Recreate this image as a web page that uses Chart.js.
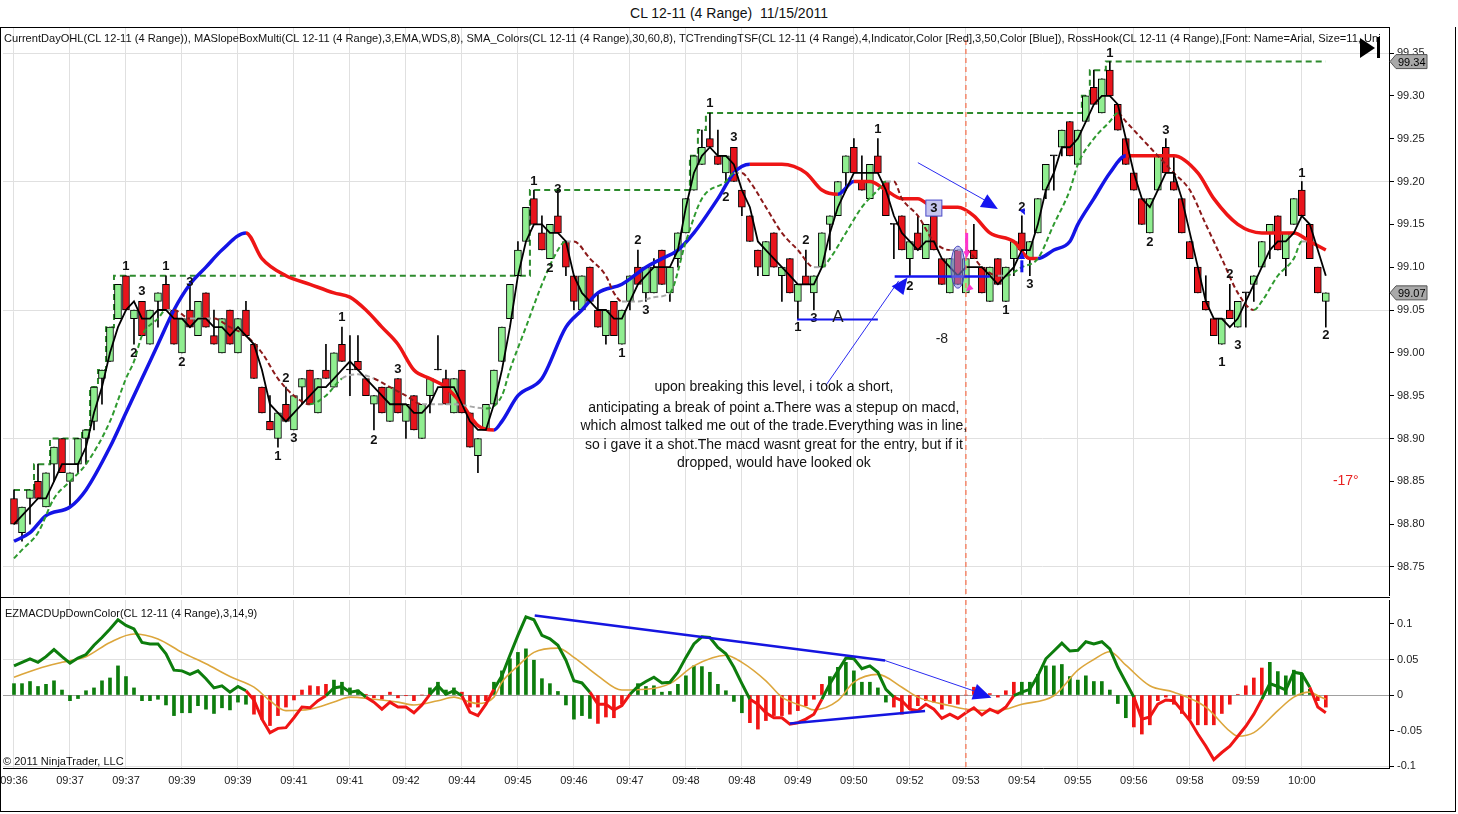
<!DOCTYPE html>
<html>
<head>
<meta charset="utf-8">
<script src="https://cdn.jsdelivr.net/npm/chart.js@4.4.0/dist/chart.umd.min.js"></script>
<style>
  body { margin: 0; background: #fff; width: 1458px; height: 814px; overflow: hidden; position: relative;
         font-family: Arial, "Liberation Sans", sans-serif; }
  canvas { position: absolute; left: 0; }
  #title { position: absolute; top: 5px; left: 0; width: 1458px; text-align: center; font-size: 14px; color: #111; }
  #ind { position: absolute; top: 32px; left: 4px; width: 1376px; overflow: hidden; white-space: nowrap; font-size: 11.1px; color: #111; }
  .ln { position: absolute; background: #000; }
</style>
</head>
<body>
<div id="title">CL 12-11 (4 Range)&nbsp; 11/15/2011</div>
<canvas id="price" width="1458" height="597" style="top:0"></canvas>
<canvas id="macd" width="1458" height="217" style="top:597px"></canvas>
<div id="ind">CurrentDayOHL(CL 12-11 (4 Range)), MASlopeBoxMulti(CL 12-11 (4 Range),3,EMA,WDS,8), SMA_Colors(CL 12-11 (4 Range),30,60,8), TCTrendingTSF(CL 12-11 (4 Range),4,Indicator,Color [Red],3,50,Color [Blue]), RossHook(CL 12-11 (4 Range),[Font: Name=Arial, Size=11, Unit=Point, Style=Bold],Color [Black])</div>
<div style="position:absolute;left:1360px;top:38px;width:0;height:0;border-top:10px solid transparent;border-bottom:10px solid transparent;border-left:15px solid #000"></div>
<div style="position:absolute;left:1377px;top:37px;width:3px;height:21px;background:#000"></div>
<div class="ln" style="left:0;top:27px;width:1390px;height:1px"></div>
<div class="ln" style="left:0;top:27px;width:1px;height:785px"></div>
<div class="ln" style="left:1455px;top:27px;width:1px;height:785px"></div>
<div class="ln" style="left:0;top:811px;width:1456px;height:1px"></div>
<div class="ln" style="left:0;top:597px;width:1390px;height:1px"></div>
<script>
// ---- data (4-tick range bars, CL 12-11) ----
const timeLabels = ['09:36','09:37','09:37','09:39','09:39','09:41','09:41','09:42','09:44','09:45','09:46','09:47',
  '09:48','09:48','09:49','09:50','09:52','09:53','09:54','09:55','09:56','09:58','09:59','10:00'];

const open = [98.83,98.79,98.83,98.85,98.82,98.87,98.90,98.85,98.87,98.90,
  98.92,98.97,98.99,99.04,99.09,99.04,99.06,99.01,99.06,99.08,
  99.05,99.00,99.05,99.02,99.07,99.02,99.00,99.05,99.00,99.05,
  99.01,98.96,98.92,98.90,98.94,98.91,98.96,98.98,98.93,98.98,
  98.96,99.01,98.98,98.99,98.97,98.94,98.96,98.92,98.97,98.92,
  98.95,98.90,98.95,98.98,98.97,98.93,98.98,98.93,98.88,98.91,
  98.94,98.99,99.04,99.09,99.13,99.18,99.14,99.11,99.16,99.13,
  99.09,99.05,99.10,99.05,99.02,99.06,99.01,99.06,99.10,99.07,
  99.07,99.12,99.07,99.11,99.14,99.19,99.22,99.25,99.23,99.21,
  99.24,99.19,99.16,99.12,99.09,99.14,99.09,99.11,99.06,99.09,
  99.07,99.10,99.15,99.16,99.21,99.24,99.20,99.18,99.23,99.20,
  99.15,99.16,99.11,99.14,99.11,99.16,99.11,99.07,99.12,99.07,
  99.12,99.10,99.06,99.11,99.06,99.11,99.14,99.11,99.14,99.19,
  99.23,99.24,99.27,99.22,99.27,99.31,99.28,99.33,99.29,99.25,
  99.21,99.18,99.14,99.19,99.24,99.20,99.18,99.13,99.10,99.06,
  99.04,99.01,99.05,99.03,99.07,99.08,99.10,99.14,99.16,99.11,
  99.15,99.19,99.15,99.10,99.06];
const high = [98.84,98.82,98.84,98.87,98.86,98.89,98.90,98.86,98.90,98.91,
  98.96,98.98,99.03,99.08,99.09,99.05,99.06,99.05,99.07,99.09,
  99.05,99.04,99.08,99.06,99.07,99.05,99.04,99.05,99.04,99.06,
  99.01,98.96,98.95,98.93,98.96,98.95,98.97,98.98,98.97,99.01,
  99.00,99.03,99.02,99.02,98.97,98.95,98.96,98.96,98.97,98.94,
  98.95,98.94,98.97,99.02,98.98,98.97,98.98,98.93,98.90,98.94,
  98.98,99.03,99.08,99.13,99.17,99.19,99.16,99.15,99.19,99.13,
  99.09,99.09,99.10,99.07,99.05,99.06,99.05,99.09,99.12,99.10,
  99.11,99.12,99.10,99.14,99.18,99.23,99.26,99.28,99.26,99.23,
  99.24,99.19,99.16,99.12,99.13,99.14,99.10,99.11,99.08,99.12,
  99.09,99.14,99.16,99.20,99.23,99.25,99.23,99.22,99.25,99.20,
  99.15,99.16,99.13,99.16,99.15,99.16,99.11,99.11,99.12,99.11,
  99.15,99.10,99.10,99.11,99.10,99.13,99.16,99.13,99.18,99.22,
  99.23,99.26,99.27,99.26,99.30,99.33,99.32,99.34,99.29,99.25,
  99.21,99.18,99.18,99.23,99.25,99.23,99.18,99.13,99.10,99.09,
  99.04,99.04,99.08,99.06,99.07,99.09,99.13,99.15,99.16,99.14,
  99.18,99.20,99.15,99.10,99.07];
const low = [98.80,98.78,98.80,98.83,98.82,98.85,98.86,98.82,98.86,98.87,
  98.91,98.94,98.99,99.04,99.05,99.01,99.02,99.01,99.03,99.05,
  99.01,99.00,99.03,99.02,99.03,99.01,99.00,99.01,99.00,99.02,
  98.97,98.93,98.91,98.89,98.92,98.91,98.94,98.94,98.93,98.97,
  98.96,98.99,98.95,98.98,98.95,98.91,98.93,98.92,98.93,98.90,
  98.91,98.90,98.93,98.98,98.94,98.93,98.93,98.89,98.86,98.91,
  98.94,98.99,99.04,99.09,99.13,99.15,99.12,99.11,99.14,99.09,
  99.05,99.05,99.06,99.03,99.01,99.02,99.01,99.05,99.08,99.06,
  99.07,99.08,99.06,99.10,99.14,99.19,99.22,99.24,99.22,99.20,
  99.20,99.16,99.13,99.09,99.09,99.10,99.06,99.07,99.04,99.08,
  99.05,99.10,99.12,99.16,99.19,99.21,99.19,99.18,99.21,99.16,
  99.11,99.12,99.09,99.12,99.11,99.12,99.08,99.07,99.08,99.07,
  99.11,99.07,99.06,99.08,99.06,99.09,99.12,99.09,99.14,99.18,
  99.19,99.23,99.23,99.22,99.27,99.29,99.28,99.30,99.26,99.22,
  99.19,99.15,99.14,99.19,99.21,99.19,99.14,99.11,99.07,99.05,
  99.02,99.01,99.04,99.03,99.03,99.06,99.10,99.11,99.12,99.09,
  99.15,99.16,99.11,99.07,99.03];
const close = [98.80,98.82,98.84,98.83,98.86,98.89,98.86,98.86,98.90,98.91,
  98.96,98.98,99.03,99.08,99.05,99.05,99.02,99.05,99.07,99.05,
  99.01,99.04,99.03,99.06,99.03,99.01,99.04,99.01,99.04,99.02,
  98.97,98.93,98.91,98.93,98.92,98.95,98.97,98.94,98.97,98.97,
  99.00,98.99,98.98,98.98,98.95,98.95,98.93,98.96,98.93,98.94,
  98.91,98.94,98.97,98.98,98.94,98.97,98.93,98.89,98.90,98.94,
  98.98,99.03,99.08,99.12,99.17,99.15,99.12,99.15,99.14,99.10,
  99.06,99.09,99.06,99.03,99.05,99.02,99.05,99.09,99.08,99.10,
  99.10,99.08,99.10,99.14,99.18,99.23,99.24,99.24,99.22,99.23,
  99.20,99.17,99.13,99.10,99.13,99.10,99.10,99.07,99.08,99.08,
  99.09,99.14,99.16,99.20,99.23,99.21,99.19,99.22,99.21,99.16,
  99.15,99.12,99.13,99.12,99.15,99.12,99.08,99.11,99.08,99.11,
  99.11,99.07,99.10,99.08,99.10,99.13,99.12,99.13,99.18,99.22,
  99.23,99.26,99.23,99.26,99.30,99.29,99.32,99.30,99.26,99.22,
  99.19,99.15,99.18,99.23,99.21,99.19,99.14,99.11,99.07,99.05,
  99.02,99.04,99.04,99.06,99.07,99.09,99.13,99.15,99.12,99.14,
  99.18,99.16,99.11,99.07,99.07];

// fast EMA (black)
const fastEma = [98.80,98.81,98.82,98.83,98.83,98.85,98.87,98.87,98.87,98.89,
  98.93,98.96,99.00,99.03,99.05,99.06,99.04,99.04,99.05,99.05,
  99.04,99.04,99.03,99.04,99.04,99.03,99.03,99.02,99.03,99.02,
  99.01,98.98,98.94,98.93,98.92,98.93,98.94,98.95,98.96,98.96,
  98.97,98.98,98.99,98.98,98.97,98.96,98.95,98.94,98.94,98.94,
  98.93,98.93,98.94,98.96,98.96,98.96,98.94,98.92,98.91,98.91,
  98.94,98.98,99.03,99.09,99.13,99.15,99.15,99.14,99.14,99.13,
  99.09,99.07,99.06,99.05,99.05,99.04,99.04,99.06,99.08,99.09,
  99.10,99.10,99.10,99.12,99.17,99.21,99.23,99.24,99.23,99.23,
  99.22,99.19,99.17,99.13,99.12,99.11,99.10,99.09,99.08,99.08,
  99.08,99.10,99.14,99.17,99.19,99.21,99.21,99.21,99.21,99.19,
  99.16,99.14,99.13,99.12,99.13,99.13,99.11,99.10,99.09,99.10,
  99.10,99.10,99.09,99.08,99.09,99.10,99.12,99.12,99.15,99.19,
  99.21,99.24,99.24,99.25,99.27,99.29,99.30,99.30,99.29,99.25,
  99.21,99.18,99.17,99.19,99.21,99.21,99.18,99.14,99.10,99.06,
  99.04,99.04,99.03,99.04,99.06,99.08,99.10,99.12,99.13,99.13,
  99.14,99.16,99.15,99.12,99.09];

// mid MA (dashed green / dark red / gray), [bar, price]
const midMaPts = [[0,98.76],[1,98.77],[3,98.79],[5,98.83],[7,98.85],[9,98.87],[12,98.92],[14,98.97],[15,98.99],
  [16,99.02],[18,99.04],[19,99.05],[20,99.05],[22,99.04],[25,99.04],[27,99.03],[29,99.02],[31,99.00],[33,98.97],
  [35,98.95],[37,98.94],[39,98.95],[41,98.97],[43,98.975],[45,98.97],[47,98.96],[49,98.95],[51,98.94],[55,98.94],
  [59,98.935],[61,98.95],[62,98.98],[64,99.03],[66,99.08],[68,99.12],[69,99.13],[70,99.13],[72,99.11],[74,99.09],
  [75,99.07],[76,99.06],[78,99.06],[80,99.065],[82,99.07],[84,99.13],[86,99.18],[89,99.20],[90,99.21],[91,99.21],
  [92,99.20],[94,99.17],[96,99.14],[98,99.12],[100,99.10],[101,99.10],[102,99.11],[104,99.14],[106,99.17],
  [108,99.19],[109,99.20],[110,99.20],[111,99.18],[113,99.16],[115,99.13],[117,99.12],[119,99.12],[121,99.10],
  [123,99.09],[124,99.09],[126,99.10],[128,99.11],[130,99.15],[132,99.19],[133,99.22],[135,99.25],[137,99.27],
  [138,99.28],[139,99.27],[141,99.25],[143,99.23],[145,99.21],[147,99.19],[149,99.15],[151,99.11],[153,99.07],
  [155,99.05],[156,99.06],[158,99.09],[160,99.11],[161,99.13],[162,99.13]];

// slow MA (thick red / blue), [bar, price]
const slowMaPts = [[0,98.78],[2,98.79],[4,98.81],[7,98.82],[9,98.84],[12,98.89],[14,98.93],[16,98.97],[18,99.01],
  [20,99.05],[22,99.08],[24,99.10],[26,99.12],[29,99.14],[31,99.11],[34,99.09],[37,99.08],[40,99.07],[42,99.065],
  [44,99.05],[46,99.03],[48,99.01],[50,98.98],[52,98.97],[54,98.96],[56,98.94],[58,98.915],[60,98.91],[61,98.92],
  [63,98.95],[66,98.97],[69,99.03],[71,99.05],[73,99.07],[76,99.08],[79,99.10],[81,99.11],[83,99.12],[85,99.14],
  [88,99.18],[90,99.21],[92,99.22],[94,99.22],[96,99.22],[99,99.21],[101,99.19],[103,99.185],[105,99.20],
  [107,99.20],[109,99.19],[111,99.18],[113,99.18],[115,99.17],[118,99.17],[120,99.16],[122,99.14],[125,99.13],
  [127,99.11],[128,99.11],[130,99.12],[132,99.13],[133,99.15],[135,99.18],[137,99.21],[139,99.23],[142,99.23],
  [144,99.23],[145,99.23],[148,99.21],[150,99.18],[153,99.15],[156,99.14],[158,99.14],[160,99.14],[162,99.13],
  [164,99.12]];

// current-day high (dashed step line), [first bar, price]
const dayHighSteps = [[0,98.84],[3,98.87],[5,98.90],[9,98.91],[10,98.96],[11,98.98],[12,99.03],[13,99.09],
  [65,99.19],[85,99.23],[86,99.26],[87,99.28],[134,99.30],[135,99.33],[137,99.34]];

// RossHook swing labels, [bar, price, text]
const hookLabels = [[14,99.101,'1'],[16,99.072,'3'],[15,98.999,'2'],[19,99.101,'1'],[22,99.082,'3'],[21,98.989,'2'],
  [34,98.97,'2'],[33,98.879,'1'],[35,98.90,'3'],[41,99.041,'1'],[48,98.981,'3'],[45,98.898,'2'],
  [65,99.20,'1'],[68,99.191,'3'],[67,99.099,'2'],[78,99.131,'2'],[79,99.05,'3'],[76,98.999,'1'],
  [87,99.291,'1'],[90,99.252,'3'],[89,99.181,'2'],[99,99.131,'2'],[98,99.03,'1'],[100,99.04,'3'],
  [108,99.261,'1'],[112,99.078,'2'],[124,99.05,'1'],[126,99.17,'2'],[127,99.08,'3'],
  [137,99.35,'1'],[144,99.26,'3'],[142,99.129,'2'],[152,99.091,'2'],[153,99.009,'3'],[151,98.989,'1'],
  [161,99.21,'1'],[164,99.02,'2']];

// MACD panel
const macdLine = [0.041,0.046,0.051,0.046,0.054,0.064,0.054,0.045,0.052,0.057,
  0.070,0.081,0.093,0.106,0.098,0.093,0.074,0.072,0.072,0.058,
  0.035,0.034,0.029,0.034,0.023,0.010,0.013,0.004,0.012,0.006,
  -0.007,-0.034,-0.053,-0.047,-0.046,-0.032,-0.017,-0.018,-0.008,-0.001,
  0.010,0.012,0.004,0.006,-0.003,-0.010,-0.020,-0.010,-0.017,-0.017,
  -0.025,-0.014,0.001,0.013,0.001,0.006,-0.001,-0.024,-0.029,-0.013,
  0.008,0.027,0.056,0.084,0.110,0.106,0.084,0.079,0.070,0.049,
  0.020,0.017,0.004,-0.013,-0.013,-0.021,-0.015,0.001,0.012,0.019,
  0.025,0.017,0.018,0.032,0.053,0.072,0.082,0.081,0.067,0.058,
  0.039,0.016,-0.006,-0.013,-0.025,-0.032,-0.032,-0.041,-0.039,-0.034,
  -0.027,-0.006,0.016,0.034,0.052,0.051,0.037,0.041,0.032,0.008,
  -0.003,-0.008,-0.020,-0.022,-0.013,-0.020,-0.033,-0.027,-0.033,-0.025,
  -0.018,-0.028,-0.020,-0.025,-0.017,-0.001,0.004,0.008,0.027,0.051,
  0.062,0.073,0.062,0.063,0.075,0.072,0.075,0.065,0.039,0.018,
  -0.003,-0.034,-0.031,-0.013,-0.007,-0.008,-0.022,-0.036,-0.055,-0.072,
  -0.091,-0.081,-0.072,-0.058,-0.044,-0.027,-0.006,0.016,0.012,0.007,
  0.032,0.030,0.011,-0.017,-0.025];
const macdHist = [0.016,0.016,0.019,0.012,0.015,0.020,0.007,-0.008,-0.005,0.006,
  0.010,0.020,0.024,0.041,0.026,0.010,-0.008,-0.008,-0.006,-0.014,
  -0.029,-0.025,-0.025,-0.015,-0.020,-0.026,-0.018,-0.021,-0.010,-0.013,
  -0.027,-0.034,-0.043,-0.029,-0.017,-0.007,0.007,0.013,0.012,0.015,
  0.021,0.018,0.010,0.007,0.001,-0.004,-0.006,0.004,-0.004,-0.001,
  -0.008,0.000,0.010,0.018,0.007,0.010,0.004,-0.017,-0.017,-0.008,
  0.018,0.034,0.051,0.060,0.065,0.049,0.023,0.016,0.005,-0.014,
  -0.034,-0.029,-0.033,-0.040,-0.031,-0.032,-0.013,0.000,0.016,0.012,
  0.013,0.004,0.005,0.015,0.027,0.041,0.040,0.032,0.015,0.006,
  -0.009,-0.025,-0.039,-0.048,-0.036,-0.029,-0.029,-0.027,-0.022,-0.015,
  -0.006,0.015,0.026,0.039,0.046,0.034,0.018,0.018,0.010,-0.010,
  -0.017,-0.027,-0.020,-0.015,-0.008,-0.010,-0.020,-0.012,-0.013,0.000,
  0.011,0.001,0.002,-0.003,0.006,0.018,0.018,0.018,0.029,0.041,
  0.041,0.043,0.026,0.021,0.027,0.019,0.019,0.007,-0.012,-0.032,
  -0.045,-0.055,-0.042,-0.008,-0.003,-0.013,-0.026,-0.034,-0.042,-0.042,
  -0.042,-0.026,-0.013,0.001,0.013,0.024,0.038,0.046,0.033,0.027,
  0.035,0.030,0.008,-0.008,-0.017];
// signal line, [bar, value]
const signalPts = [[0,0.025],[3,0.037],[6,0.046],[9,0.054],[12,0.074],[15,0.086],[18,0.079],[21,0.060],[24,0.044],
  [27,0.026],[30,0.011],[32,-0.008],[34,-0.022],[37,-0.020],[40,-0.010],[42,-0.003],[45,-0.006],[48,-0.010],
  [50,-0.014],[53,-0.008],[55,-0.003],[57,-0.010],[58,-0.012],[60,-0.003],[61,0.018],[63,0.041],[65,0.060],
  [68,0.066],[70,0.053],[73,0.027],[76,0.007],[79,0.008],[82,0.016],[85,0.041],[89,0.056],[91,0.046],[94,0.020],
  [96,-0.003],[99,-0.017],[100,-0.021],[103,-0.008],[105,0.018],[108,0.029],[111,0.011],[113,-0.003],[117,-0.015],
  [119,-0.020],[123,-0.022],[126,-0.013],[130,-0.001],[133,0.035],[135,0.050],[137,0.061],[139,0.042],[142,0.013],
  [145,0.004],[149,-0.017],[152,-0.051],[153,-0.058],[155,-0.053],[158,-0.022],[160,-0.003],[162,0.004],
  [163,-0.001],[164,-0.006]];

const priceTicks = [99.35,99.30,99.25,99.20,99.15,99.10,99.05,99.00,98.95,98.90,98.85,98.80,98.75];
const priceGrid = [99.35,99.20,99.05,98.90,98.75];
const macdTicks = [0.1,0.05,0,-0.05,-0.1];
const markerBar = 119;

const noteLines = ['upon breaking this level, i took a short,',
  'anticipating a break of point a.There was a stepup on macd,',
  'which almost talked me out of the trade.Everything was in line,',
  'so i gave it a shot.The macd wasnt great for the entry, but if it',
  'dropped, would have looked ok'];
const notePrices = [98.960, 98.936, 98.915, 98.892, 98.871];

// ---- styling ----
const FONT = 'Arial, "Liberation Sans", sans-serif';
Chart.defaults.font.family = FONT;
Chart.defaults.font.size = 11;
Chart.defaults.color = '#222';
Chart.defaults.animation = false;
const RED = '#ee1515', BLUE = '#1414e6', UPC = '#90ee90', DNC = '#e8141c';
const MGREEN = '#2f9a2f', MDRED = '#8b1a1a', MGRAY = '#a8a8a8';
const X_MIN = -1.375, X_MAX = 171.9;
const xTicks = timeLabels.map((t, k) => ({ value: k * 7 }));

const dayHigh = open.map((o, i) => {
  let v = dayHighSteps[0][1];
  dayHighSteps.forEach(s => { if (s[0] <= i) v = s[1]; });
  return { x: i, y: v };
});

function arrowHead(ctx, x0, y0, x1, y1, size, color) {
  const a = Math.atan2(y1 - y0, x1 - x0);
  ctx.fillStyle = color;
  ctx.beginPath();
  ctx.moveTo(x1, y1);
  ctx.lineTo(x1 - size * Math.cos(a - 0.42), y1 - size * Math.sin(a - 0.42));
  ctx.lineTo(x1 - size * Math.cos(a + 0.42), y1 - size * Math.sin(a + 0.42));
  ctx.closePath();
  ctx.fill();
}
function seg(ctx, x0, y0, x1, y1, color, w) {
  ctx.strokeStyle = color; ctx.lineWidth = w;
  ctx.beginPath(); ctx.moveTo(x0, y0); ctx.lineTo(x1, y1); ctx.stroke();
}
function priceMarker(ctx, xr, yc, txt) {
  ctx.fillStyle = '#a9a9a9'; ctx.strokeStyle = '#555'; ctx.lineWidth = 1;
  ctx.beginPath();
  ctx.moveTo(xr + 1, yc); ctx.lineTo(xr + 7, yc - 7); ctx.lineTo(xr + 38, yc - 7);
  ctx.lineTo(xr + 38, yc + 7); ctx.lineTo(xr + 7, yc + 7); ctx.closePath();
  ctx.fill(); ctx.stroke();
  ctx.fillStyle = '#000'; ctx.font = '11px ' + FONT; ctx.textAlign = 'left'; ctx.textBaseline = 'middle';
  ctx.fillText(txt, xr + 9, yc + 1);
}
// keep the plot edges where they are in the original (no label half-height padding)
function noPad(s) { s.paddingTop = 0; s.paddingBottom = 0; }

const priceExtras = {
  id: 'priceExtras',
  afterDatasetsDraw(chart) {
    const { ctx, chartArea: a, scales: { x, y } } = chart;
    const X = v => x.getPixelForValue(v), Y = v => y.getPixelForValue(v);
    ctx.save();
    // trade marker
    ctx.setLineDash([5, 4]);
    seg(ctx, X(markerBar), a.top + 12, X(markerBar), a.bottom, '#f4876a', 1.5);
    ctx.setLineDash([]);

    // swing labels
    ctx.font = 'bold 13px ' + FONT; ctx.textAlign = 'center'; ctx.textBaseline = 'middle';
    ctx.fillStyle = '#111';
    hookLabels.forEach(([b, p, t]) => ctx.fillText(t, X(b), Y(p)));

    // boxed 3
    ctx.fillStyle = '#c5c5ef'; ctx.strokeStyle = '#4a4ac8'; ctx.lineWidth = 1;
    ctx.fillRect(X(115) - 8, Y(99.169) - 8, 16, 16); ctx.strokeRect(X(115) - 8, Y(99.169) - 8, 16, 16);
    ctx.fillStyle = '#111'; ctx.fillText('3', X(115), Y(99.169));

    // point A level
    seg(ctx, X(97.9), Y(99.039), X(108), Y(99.039), '#1515f0', 2);
    ctx.font = '17px ' + FONT; ctx.fillStyle = '#1a1a1a';
    ctx.fillText('A', X(103), Y(99.042));
    // entry level
    seg(ctx, X(110.1), Y(99.089), X(122), Y(99.089), '#1515f0', 2.5);
    // pointer lines
    seg(ctx, X(101.5), Y(98.962), X(110.6), Y(99.084), '#2a2af0', 1);
    arrowHead(ctx, X(101.5), Y(98.962), X(111.7), Y(99.088), 18, '#1515f0');
    seg(ctx, X(113), Y(99.222), X(121.8), Y(99.176), '#2a2af0', 1);
    arrowHead(ctx, X(113), Y(99.222), X(123), Y(99.168), 18, '#1515f0');

    // highlighted bar
    ctx.fillStyle = 'rgba(140,140,225,0.55)'; ctx.strokeStyle = '#4444bb'; ctx.lineWidth = 1;
    ctx.beginPath(); ctx.ellipse(X(118), Y(99.100), 7, 21, 0, 0, Math.PI * 2); ctx.fill(); ctx.stroke();
    seg(ctx, X(119.1), Y(99.140), X(119.1), Y(99.118), '#ff33cc', 3);
    arrowHead(ctx, X(119.1), Y(99.140), X(119.1), Y(99.110), 8, '#ff33cc');
    arrowHead(ctx, X(120), Y(99.080), X(119), Y(99.072), 8, '#ff33cc');
    seg(ctx, X(126), Y(99.094), X(126), Y(99.108), '#1515f0', 3);
    arrowHead(ctx, X(126), Y(99.094), X(126), Y(99.118), 8, '#1515f0');
    arrowHead(ctx, X(126), Y(99.168), X(126.4), Y(99.161), 7, '#1515f0');

    // notes
    ctx.font = '14px ' + FONT; ctx.fillStyle = '#222';
    ctx.fillText('-8', X(116), Y(99.016));
    ctx.fillStyle = '#e82020';
    ctx.fillText('-17\u00B0', X(166.5), Y(98.85));
    ctx.fillStyle = '#111';
    noteLines.forEach((t, k) => ctx.fillText(t, X(95), Y(notePrices[k])));
    ctx.restore();
  },
  afterDraw(chart) {
    const { ctx, chartArea: a, scales: { y } } = chart;
    ctx.save();
    priceMarker(ctx, a.right, y.getPixelForValue(Math.max(...high)), Math.max(...high).toFixed(2));
    const last = close[close.length - 1];
    priceMarker(ctx, a.right, y.getPixelForValue(last), last.toFixed(2));
    ctx.restore();
  }
};

new Chart(document.getElementById('price'), {
  data: {
    datasets: [
      { type: 'line', data: fastEma.map((v, i) => ({ x: i, y: v })), borderColor: '#000', borderWidth: 1.8,
        pointRadius: 0, order: 1 },
      { type: 'line', data: midMaPts.map(([x, y]) => ({ x, y })), borderWidth: 2, borderDash: [5, 3],
        pointRadius: 0, cubicInterpolationMode: 'monotone', order: 2,
        segment: { borderColor: c => {
          const d = (c.p1.parsed.y - c.p0.parsed.y) / (c.p1.parsed.x - c.p0.parsed.x);
          return Math.abs(d) < 0.004 ? MGRAY : (d > 0 ? MGREEN : MDRED);
        } } },
      { type: 'line', data: slowMaPts.map(([x, y]) => ({ x, y })), borderWidth: 3.5, pointRadius: 0,
        cubicInterpolationMode: 'monotone', order: 3,
        segment: { borderColor: c => c.p1.parsed.y > c.p0.parsed.y ? BLUE : RED } },
      { type: 'bar', data: open.map((o, i) => ({ x: i, y: [o, close[i]] })),
        backgroundColor: open.map((o, i) => close[i] > o ? UPC : (close[i] < o ? DNC : '#000')),
        borderColor: '#000', borderWidth: 1, borderSkipped: false, barThickness: 7, minBarLength: 1,
        grouped: false, order: 5 },
      { type: 'bar', data: low.map((l, i) => ({ x: i, y: [l, high[i]] })), backgroundColor: '#000',
        barThickness: 1, grouped: false, order: 6 },
      { type: 'line', data: dayHigh, stepped: 'middle', borderColor: '#2e8b2e', borderWidth: 2,
        borderDash: [6, 4], pointRadius: 0, order: 7 }
    ]
  },
  options: {
    responsive: false, devicePixelRatio: 1, events: [],
    layout: { padding: { left: 3, right: 0, top: 28, bottom: 2 }, autoPadding: false },
    plugins: { legend: { display: false }, tooltip: { enabled: false } },
    scales: {
      x: { type: 'linear', min: X_MIN, max: X_MAX, offset: false,
        afterBuildTicks: s => { s.ticks = xTicks.map(t => ({ ...t })); },
        afterFit: s => { s.height = 0; s.paddingLeft = 0; s.paddingRight = 0; },
        ticks: { display: false },
        grid: { color: '#e0e0e0', drawTicks: false, offset: false },
        border: { display: false } },
      y: { type: 'linear', position: 'right', min: 98.7173, max: 99.3792,
        afterBuildTicks: s => { s.ticks = priceTicks.map(v => ({ value: v })); },
        afterFit: s => { s.width = 69; noPad(s); },
        ticks: { callback: v => v.toFixed(2), padding: 3, color: '#222', font: { size: 11 } },
        grid: { color: c => priceGrid.some(g => c.tick && Math.abs(g - c.tick.value) < 1e-6) ? '#e0e0e0' : 'rgba(0,0,0,0)',
          tickColor: '#000', tickLength: 5 },
        border: { color: '#000', width: 1 } }
    }
  },
  plugins: [priceExtras]
});

const macdExtras = {
  id: 'macdExtras',
  afterDatasetsDraw(chart) {
    const { ctx, chartArea: a, scales: { x, y } } = chart;
    const X = v => x.getPixelForValue(v), Y = v => y.getPixelForValue(v);
    ctx.save();
    ctx.setLineDash([5, 4]);
    seg(ctx, X(markerBar), a.top, X(markerBar), a.bottom, '#f4876a', 1.5);
    ctx.setLineDash([]);
    seg(ctx, X(65.1), Y(0.112), X(108.9), Y(0.0485), '#1515e0', 2.5);
    seg(ctx, X(108.9), Y(0.0485), X(121), Y(0.002), '#2a2af0', 1);
    arrowHead(ctx, X(108.9), Y(0.0485), X(122.2), Y(-0.004), 20, '#1515f0');
    seg(ctx, X(97), Y(-0.040), X(113.9), Y(-0.0225), '#1515e0', 2.5);
    ctx.font = '11px ' + FONT; ctx.fillStyle = '#111'; ctx.textAlign = 'left'; ctx.textBaseline = 'middle';
    ctx.fillText('EZMACDUpDownColor(CL 12-11 (4 Range),3,14,9)', 5, 17);
    ctx.fillText('\u00A9 2011 NinjaTrader, LLC', 3, 165);
    ctx.restore();
  }
};

new Chart(document.getElementById('macd'), {
  data: {
    datasets: [
      { type: 'line', data: macdLine.map((v, i) => ({ x: i, y: v })), borderWidth: 3, pointRadius: 0, order: 1,
        segment: { borderColor: c => (c.p0.parsed.y + c.p1.parsed.y) > 0 ? '#0d7d0d' : '#f01515' } },
      { type: 'line', data: signalPts.map(([x, y]) => ({ x, y })), borderColor: '#dca63c', borderWidth: 1.6,
        pointRadius: 0, cubicInterpolationMode: 'monotone', order: 2 },
      { type: 'bar', data: macdHist.map((v, i) => ({ x: i, y: v })),
        backgroundColor: macdLine.map(v => v >= 0 ? '#0d7d0d' : '#f01515'), barThickness: 3, order: 3 }
    ]
  },
  options: {
    responsive: false, devicePixelRatio: 1, events: [],
    layout: { padding: { left: 3, right: 0, top: 3, bottom: 22 }, autoPadding: false },
    plugins: { legend: { display: false }, tooltip: { enabled: false } },
    scales: {
      x: { type: 'linear', min: X_MIN, max: X_MAX, offset: false,
        afterBuildTicks: s => { s.ticks = xTicks.map(t => ({ ...t })); },
        afterFit: s => { s.height = 24; s.paddingLeft = 0; s.paddingRight = 0; },
        ticks: { callback: (v, k) => timeLabels[k], maxRotation: 0, autoSkip: false, padding: 6, color: '#222' },
        grid: { color: '#e0e0e0', drawTicks: false, offset: false },
        border: { color: '#000', width: 1 } },
      y: { type: 'linear', position: 'right', min: -0.1028, max: 0.1338,
        afterBuildTicks: s => { s.ticks = macdTicks.map(v => ({ value: v })); },
        afterFit: s => { s.width = 69; noPad(s); },
        ticks: { callback: v => String(v), padding: 3, color: '#222' },
        grid: { color: c => !c.tick ? 'rgba(0,0,0,0)' : (c.tick.value === 0 ? '#a0a0a0' :
          (c.tick.value === 0.05 || c.tick.value === -0.1 ? '#e0e0e0' : 'rgba(0,0,0,0)')),
          tickColor: '#000', tickLength: 5 },
        border: { color: '#000', width: 1 } }
    }
  },
  plugins: [macdExtras]
});
</script>
</body>
</html>
